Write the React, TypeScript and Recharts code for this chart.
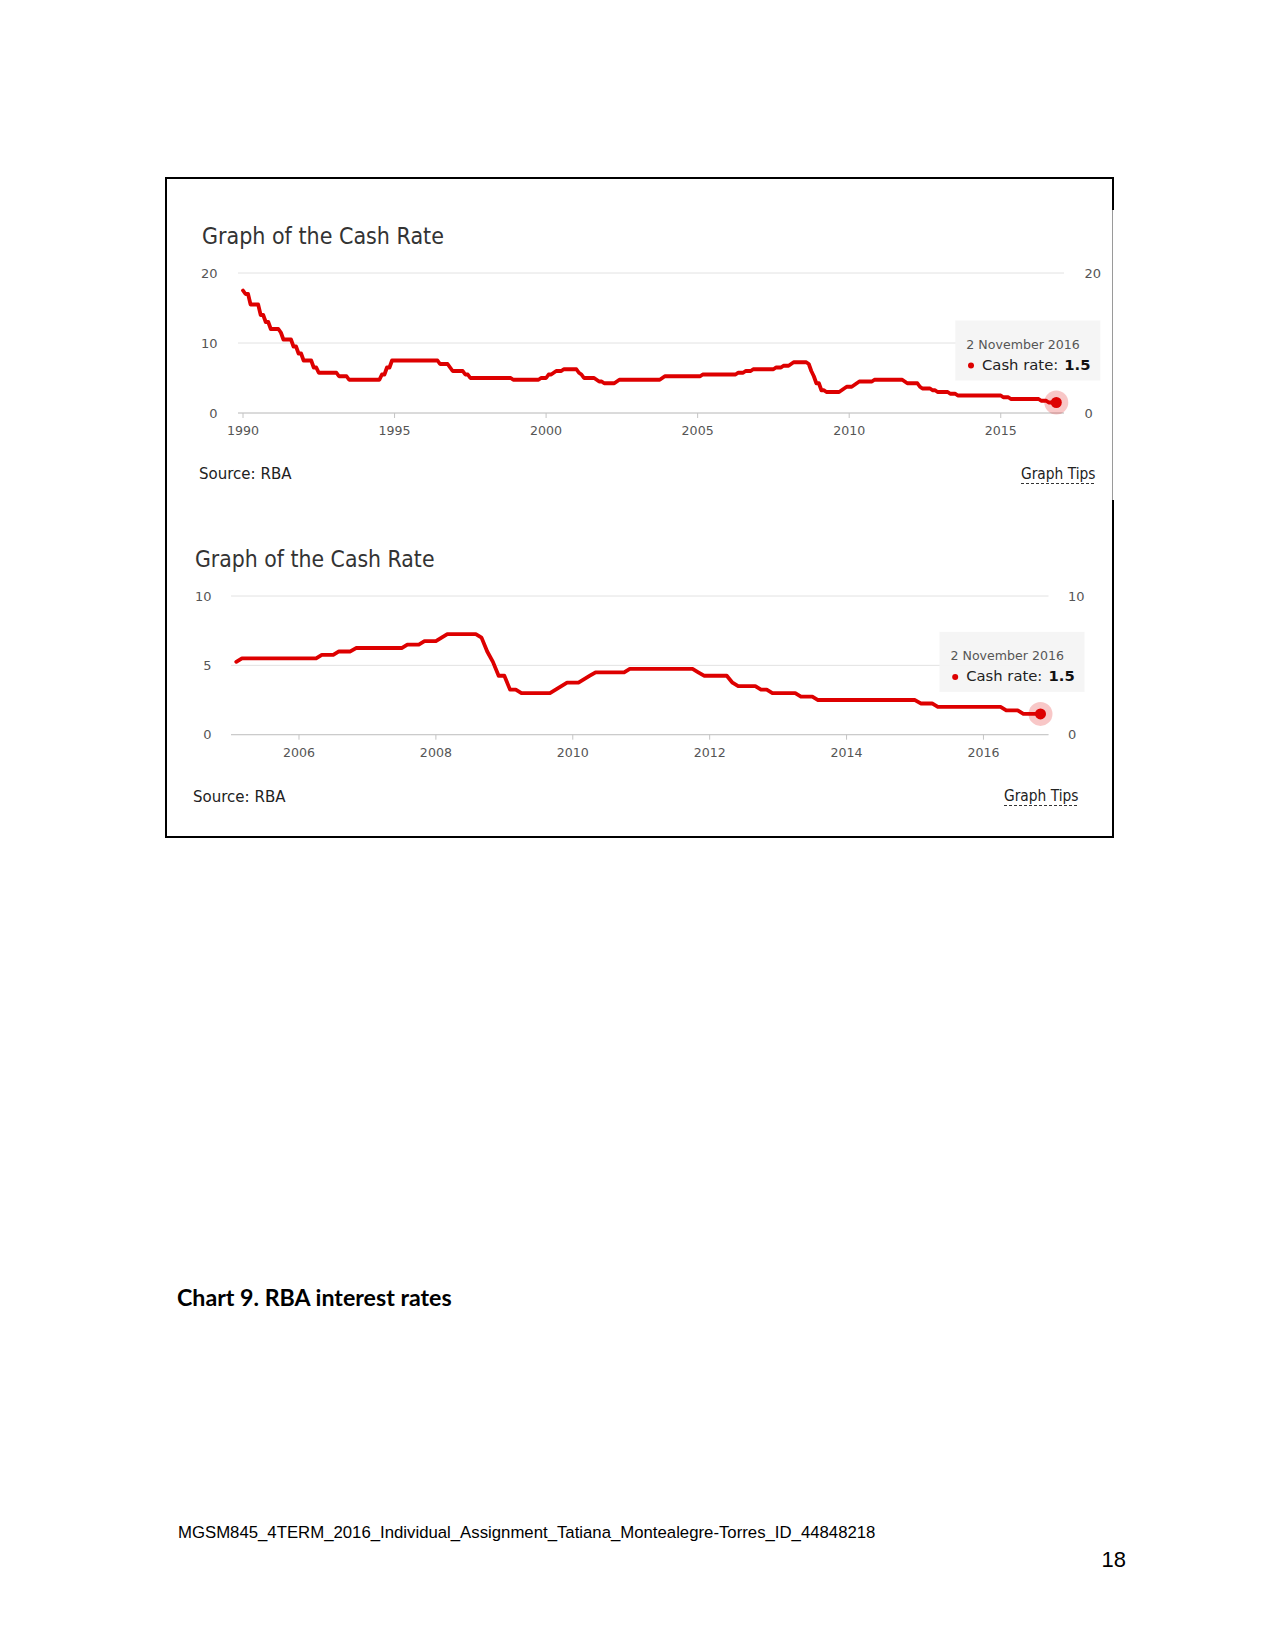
import React from 'react';
import { LineChart, Line, XAxis, YAxis, CartesianGrid, ReferenceDot } from 'recharts';

// month of each RBA cash rate change (and the last reading), with the new rate
const changeMonths = [
  '1990-01', '1990-02', '1990-04', '1990-08', '1990-10', '1990-12',
  '1991-04', '1991-05', '1991-09', '1991-11', '1992-01', '1992-05',
  '1992-07', '1993-03', '1993-07', '1994-08', '1994-10', '1994-12',
  '1996-07', '1996-11', '1996-12', '1997-05', '1997-07', '1998-12',
  '1999-11', '2000-02', '2000-04', '2000-05', '2000-08', '2001-02',
  '2001-03', '2001-04', '2001-09', '2001-10', '2001-12', '2002-05',
  '2002-06', '2003-11', '2003-12', '2005-03', '2006-05', '2006-08',
  '2006-11', '2007-08', '2007-11', '2008-02', '2008-03', '2008-09',
  '2008-10', '2008-11', '2008-12', '2009-02', '2009-04', '2009-10',
  '2009-11', '2009-12', '2010-03', '2010-04', '2010-05', '2010-11',
  '2011-11', '2011-12', '2012-05', '2012-06', '2012-10', '2012-12',
  '2013-05', '2013-08', '2015-02', '2015-05', '2016-05', '2016-08',
  '2016-11',
];
const cashRates = [
  17.5, 17.0, 15.5, 14.0, 13.0, 12.0,
  11.5, 10.5, 9.5, 8.5, 7.5, 6.5,
  5.75, 5.25, 4.75, 5.5, 6.5, 7.5,
  7.0, 6.5, 6.0, 5.5, 5.0, 4.75,
  5.0, 5.5, 5.75, 6.0, 6.25, 5.75,
  5.5, 5.0, 4.75, 4.5, 4.25, 4.5,
  4.75, 5.0, 5.25, 5.5, 5.75, 6.0,
  6.25, 6.5, 6.75, 7.0, 7.25, 7.0,
  6.0, 5.25, 4.25, 3.25, 3.0, 3.25,
  3.5, 3.75, 4.0, 4.25, 4.5, 4.75,
  4.5, 4.25, 3.75, 3.5, 3.25, 3.0,
  2.75, 2.5, 2.25, 2.0, 1.75, 1.5,
  1.5,
];

const longYearTicks = [1990, 1995, 2000, 2005, 2010, 2015];
const shortYearTicks = [2006, 2008, 2010, 2012, 2014, 2016];
const longRateTicks = [0, 10, 20];
const shortRateTicks = [0, 5, 10];
const recentFrom = '2005-02';

const chartTitle = 'Graph of the Cash Rate';
const sourceText = 'Source: RBA';
const tipsText = 'Graph Tips';
const lastDateLabel = '2 November 2016';
const seriesName = 'Cash rate';
const captionText = 'Chart 9. RBA interest rates';
const footerText = 'MGSM845_4TERM_2016_Individual_Assignment_Tatiana_Montealegre-Torres_ID_44848218';
const pageNumber = '18';

const uiFont = '"DejaVu Sans", Verdana, sans-serif';
const RED = '#dd0000';

const toYear = (m: string) => {
  const [y, mo] = m.split('-').map(Number);
  return y + (mo - 1) / 12;
};

// monthly series: each change is reached from the previous month's level
const buildPoints = () => {
  const pts: { t: number; rate: number }[] = [];
  changeMonths.forEach((m, i) => {
    const t = toYear(m);
    if (i > 0) {
      const hold = t - 1 / 12;
      if (hold > pts[pts.length - 1].t + 1e-6) pts.push({ t: hold, rate: cashRates[i - 1] });
    }
    pts.push({ t, rate: cashRates[i] });
  });
  return pts;
};

const allPoints = buildPoints();
const recentPoints = allPoints.filter((p) => p.t >= toYear(recentFrom) - 1e-6);
const lastPoint = allPoints[allPoints.length - 1];

const EndMarker = (props: any) => {
  const { cx, cy } = props;
  if (cx == null || cy == null) return null;
  return (
    <g fontFamily={uiFont}>
      <circle cx={cx} cy={cy} r={12} fill={RED} fillOpacity={0.22} />
      <circle cx={cx} cy={cy} r={5.5} fill={RED} />
      <rect x={cx - 101} y={cy - 82} width={145} height={60} fill="#f5f5f5" fillOpacity={0.96} />
      <text x={cx - 90} y={cy - 54} fontSize={12.6} fill="#555">
        {lastDateLabel}
      </text>
      <circle cx={cx - 85.3} cy={cy - 37} r={3} fill={RED} />
      <text x={cx - 74.3} y={cy - 32.4} fontSize={14.8} fill="#222">
        {seriesName}:
      </text>
      <text x={cx + 8} y={cy - 32.4} fontSize={14.8} fontWeight="bold" fill="#111">
        {lastPoint.rate.toFixed(1)}
      </text>
    </g>
  );
};

interface CashChartProps {
  data: { t: number; rate: number }[];
  xDomain: [number, number];
  xTicks: number[];
  yTicks: number[];
  plotLeft: number;
  plotRight: number;
  plotTop: number;
  plotBottom: number;
  labelGap: number;
}

const CashChart: React.FC<CashChartProps> = ({
  data, xDomain, xTicks, yTicks, plotLeft, plotRight, plotTop, plotBottom, labelGap,
}) => {
  const axisW = 50;
  const axisH = 40;
  const left = plotLeft - axisW;
  const top = plotTop - 10;
  const width = plotRight + axisW - left;
  const height = plotBottom + axisH - top;
  const yDomain: [number, number] = [yTicks[0], yTicks[yTicks.length - 1]];
  // the middle label on the right sits under the tooltip box, so only the ends show
  const rightTicks = [yTicks[0], yTicks[yTicks.length - 1]];
  const tickStyle = { fill: '#555', fontSize: 13, fontFamily: uiFont };
  return (
    <div style={{ position: 'absolute', left, top }}>
      <LineChart width={width} height={height} data={data} margin={{ top: 10, right: 0, bottom: 0, left: 0 }}>
        <CartesianGrid vertical={false} stroke="#e2e2e2" />
        <XAxis
          dataKey="t"
          type="number"
          domain={xDomain}
          ticks={xTicks}
          allowDataOverflow
          height={axisH}
          tickSize={5}
          tickMargin={8}
          stroke="#c4c4c4"
          tick={{ ...tickStyle, fontSize: 12.6 }}
          tickFormatter={(v: number) => String(Math.round(v))}
        />
        <YAxis
          domain={yDomain}
          ticks={yTicks}
          width={axisW}
          axisLine={false}
          tickLine={false}
          tickSize={0}
          tickMargin={labelGap}
          tick={tickStyle}
        />
        <YAxis
          yAxisId="r"
          orientation="right"
          domain={yDomain}
          ticks={rightTicks}
          width={axisW}
          axisLine={false}
          tickLine={false}
          tickSize={0}
          tickMargin={labelGap}
          tick={tickStyle}
        />
        {/* same series on the right axis, not stroked, so that axis gets its ticks */}
        <Line
          yAxisId="r"
          dataKey="rate"
          stroke="none"
          dot={false}
          activeDot={false}
          legendType="none"
          isAnimationActive={false}
        />
        <Line
          dataKey="rate"
          type="linear"
          stroke={RED}
          strokeWidth={3.8}
          strokeLinejoin="round"
          strokeLinecap="round"
          dot={false}
          activeDot={false}
          isAnimationActive={false}
        />
        <ReferenceDot x={lastPoint.t} y={lastPoint.rate} shape={EndMarker} />
      </LineChart>
    </div>
  );
};

const App: React.FC = () => {
  return (
    <div style={{ position: 'absolute', left: 0, top: 0, width: 1275, height: 1650, background: '#fff' }}>
      {/* frame round the pasted screenshots */}
      <div
        style={{
          position: 'absolute', left: 165, top: 177, width: 949, height: 661, boxSizing: 'border-box',
          borderTop: '2px solid #000', borderLeft: '2px solid #000', borderBottom: '2px solid #000',
        }}
      />
      <div style={{ position: 'absolute', left: 1112, top: 177, width: 2, height: 33, background: '#000' }} />
      <div style={{ position: 'absolute', left: 1112, top: 210, width: 1, height: 290, background: '#9a9a9a' }} />
      <div style={{ position: 'absolute', left: 1112, top: 500, width: 2, height: 338, background: '#000' }} />

      <CashChart
        data={allPoints}
        xDomain={[1989.835, 2017.087]}
        xTicks={longYearTicks}
        yTicks={longRateTicks}
        plotLeft={238}
        plotRight={1064}
        plotTop={273}
        plotBottom={413}
        labelGap={20.5}
      />
      <CashChart
        data={recentPoints}
        xDomain={[2005.007, 2016.95]}
        xTicks={shortYearTicks}
        yTicks={shortRateTicks}
        plotLeft={230.5}
        plotRight={1048}
        plotTop={596.3}
        plotBottom={735}
        labelGap={19.5}
      />

      <svg width={1275} height={1650} style={{ position: 'absolute', left: 0, top: 0, pointerEvents: 'none' }}>
        <g fontFamily={uiFont}>
          <text transform="translate(202,244) scale(0.88,1)" fontSize={23.5} fill="#333">{chartTitle}</text>
          <text transform="translate(199,479.3) scale(0.94,1)" fontSize={16} fill="#222">{sourceText}</text>
          <text transform="translate(1021,479) scale(0.863,1)" fontSize={16} fill="#222">{tipsText}</text>
          <line x1={1021} x2={1096} y1={483.5} y2={483.5} stroke="#333" strokeDasharray="3 2" />

          <text transform="translate(195,567) scale(0.89,1)" fontSize={23} fill="#333">{chartTitle}</text>
          <text transform="translate(193,801.5) scale(0.94,1)" fontSize={16} fill="#222">{sourceText}</text>
          <text transform="translate(1004,801) scale(0.863,1)" fontSize={16} fill="#222">{tipsText}</text>
          <line x1={1004} x2={1079} y1={805.5} y2={805.5} stroke="#333" strokeDasharray="3 2" />
        </g>
        <text x={177} y={1305.7} fontFamily="Lato, sans-serif" fontWeight={700} fontSize={23.2} fill="#000">
          {captionText}
        </text>
        <text x={178} y={1538.3} fontFamily='"Liberation Sans", Arial, sans-serif' fontSize={16.75} fill="#000">
          {footerText}
        </text>
        <text x={1126} y={1566.7} textAnchor="end" fontFamily='"Liberation Sans", Arial, sans-serif' fontSize={22} fill="#000">
          {pageNumber}
        </text>
      </svg>
    </div>
  );
};

export default App;
